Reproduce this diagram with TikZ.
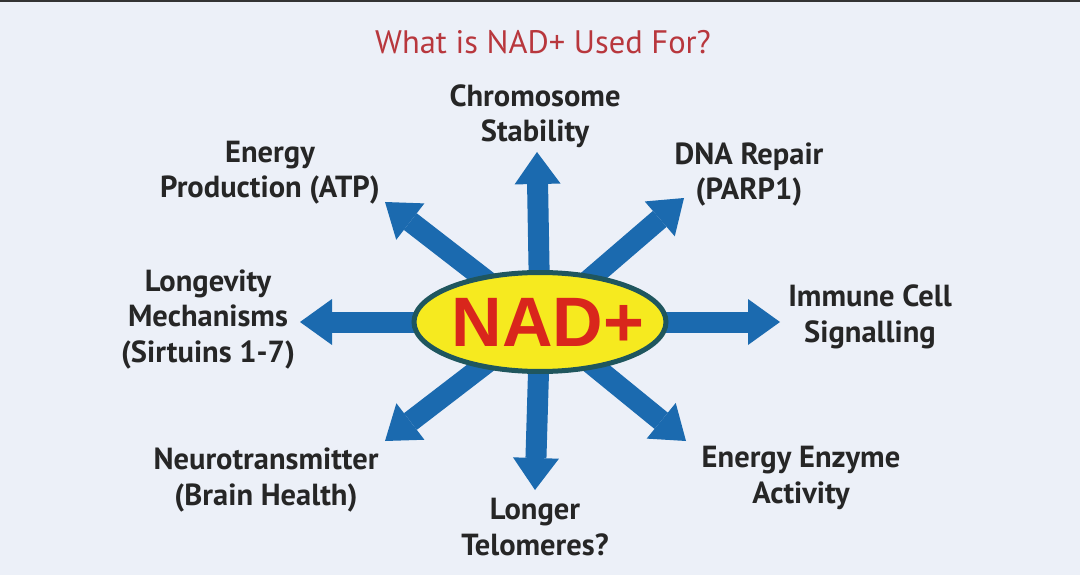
\documentclass[tikz,border=0pt]{standalone}
\usepackage{fontspec}
\setmainfont{PT Sans}
\newfontfamily\nadfont{Liberation Sans}
\usetikzlibrary{arrows.meta,shapes.geometric,backgrounds}
\definecolor{bgc}{HTML}{ECF0F8}
\definecolor{arrowblue}{HTML}{1B6AAF}
\definecolor{nadyellow}{HTML}{F6EA1F}
\definecolor{nadborder}{HTML}{1F565E}
\definecolor{nadred}{HTML}{D9261C}
\definecolor{titlered}{HTML}{B8373D}
\definecolor{labeltext}{HTML}{262626}
\pgfdeclareradialshading{bgshade}{\pgfpoint{0bp}{0bp}}{color(0bp)=(bgc); color(36bp)=(bgc); color(62bp)=(white); color(80bp)=(white)}
\tikzset{
  bigarrow/.style={draw=arrowblue, line width=21pt, -{Triangle[width=46pt,length=32pt,line width=0pt]}},
  lbl/.style={anchor=base, align=center, text=labeltext, inner sep=0pt, font=\bfseries\fontsize{30.5}{35.5}\selectfont},
  titlestyle/.style={anchor=base, text=titlered, inner sep=0pt, font=\fontsize{32.5}{36}\selectfont},
  nadshape/.style={ellipse, draw=nadborder, fill=nadyellow, line width=5pt, minimum width=252pt, minimum height=99pt, inner sep=0pt},
  nadtext/.style={text=nadred, inner sep=0pt, font=\nadfont\bfseries\fontsize{70}{70}\selectfont}
}
\begin{document}
\begin{tikzpicture}[x=1pt,y=-1pt]
\useasboundingbox (0,0) rectangle (1080,575);
\begin{pgfonlayer}{background}
  \fill[shading=bgshade] (0,0) rectangle (1080,575);
  \fill[black!80] (0,0) rectangle (1080,2);
\end{pgfonlayer}

\node[nadshape] (nad) at (540,322) {};
\node[nadtext] (nadlbl) at (548,322) {NAD+};

\coordinate (tN)  at (537,152);
\coordinate (tNE) at (684,198);
\coordinate (tE)  at (780,322);
\coordinate (tSE) at (686,441);
\coordinate (tS)  at (535,490);
\coordinate (tSW) at (385,441);
\coordinate (tW)  at (300,322);
\coordinate (tNW) at (385,202);

\begin{pgfonlayer}{background}
  \foreach \t in {tN,tNE,tE,tSE,tS,tSW,tW,tNW}
    \draw[bigarrow] (nad.center) -- (\t);
\end{pgfonlayer}

\node[titlestyle] (title) at (543,54) {What is NAD+ Used For?};

\node[lbl] (chrom) at (535,142) {Chromosome\\Stability};
\node[lbl] (energy) at (270,198) {Energy\\Production (ATP)};
\node[lbl] (dna) at (749,200) {DNA Repair\\(PARP1)};
\node[lbl] (longev) at (208,362) {Longevity\\Mechanisms\\(Sirtuins 1-7)};
\node[lbl] (immune) at (870,342) {Immune Cell\\Signalling};
\node[lbl] (neuro) at (266,505) {Neurotransmitter\\(Brain Health)};
\node[lbl] (telo) at (535,555) {Longer\\Telomeres?};
\node[lbl] (enzyme) at (801,503) {Energy Enzyme\\Activity};
\end{tikzpicture}
\end{document}
